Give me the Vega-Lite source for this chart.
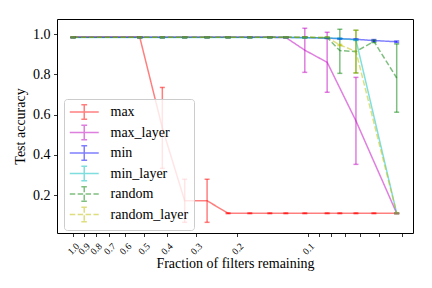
{
  "$schema": "https://vega.github.io/schema/vega-lite/v6.json",
  "width": 356,
  "height": 214,
  "autosize": {"type": "none"},
  "padding": {"left": 57, "top": 19, "right": 19, "bottom": 55},
  "background": "white",
  "config": {
    "font": "Liberation Serif",
    "view": {"stroke": "#000", "strokeWidth": 1},
    "axis": {"domain": false, "grid": false, "labelFont": "Liberation Serif", "titleFont": "Liberation Serif", "tickColor": "#000", "labelColor": "#000", "titleColor": "#000", "titleFontWeight": "normal", "titleFontSize": 14, "tickSize": 3.5, "tickWidth": 0.8},
    "legend": {"orient": "none", "legendX": 7, "legendY": 80, "title": null, "symbolType": "M-1,0H3M1,-1V1M0.6,-1H1.4M0.6,1H1.4", "symbolSize": 210, "symbolStrokeWidth": 1.5, "symbolOpacity": 0.5, "symbolFillColor": "transparent", "labelFont": "Liberation Serif", "labelFontSize": 14, "labelColor": "#000", "labelOffset": 25.5, "rowPadding": -1.5, "padding": 5, "strokeColor": "#cccccc", "fillColor": "rgba(255,255,255,0.8)", "cornerRadius": 3}
  },
  "data": {"values": [
    {"s":"max","x":1.0,"y":0.984,"lo":0.982,"hi":0.986},
    {"s":"max","x":0.52,"y":0.984,"lo":0.982,"hi":0.986},
    {"s":"max","x":0.417,"y":0.534,"lo":0.333,"hi":0.735},
    {"s":"max","x":0.335,"y":0.172,"lo":0.065,"hi":0.279},
    {"s":"max","x":0.269,"y":0.172,"lo":0.065,"hi":0.279},
    {"s":"max","x":0.219,"y":0.11,"lo":0.108,"hi":0.112},
    {"s":"max","x":0.177,"y":0.11,"lo":0.108,"hi":0.112},
    {"s":"max","x":0.1455,"y":0.11,"lo":0.108,"hi":0.112},
    {"s":"max","x":0.1244,"y":0.11,"lo":0.108,"hi":0.112},
    {"s":"max","x":0.1033,"y":0.11,"lo":0.108,"hi":0.112},
    {"s":"max","x":0.083,"y":0.11,"lo":0.108,"hi":0.112},
    {"s":"max","x":0.0733,"y":0.11,"lo":0.108,"hi":0.112},
    {"s":"max","x":0.0626,"y":0.11,"lo":0.108,"hi":0.112},
    {"s":"max","x":0.0525,"y":0.11,"lo":0.108,"hi":0.112},
    {"s":"max","x":0.042,"y":0.11,"lo":0.108,"hi":0.112},

    {"s":"max_layer","x":1.0,"y":0.984,"lo":0.982,"hi":0.986},
    {"s":"max_layer","x":0.52,"y":0.984,"lo":0.982,"hi":0.986},
    {"s":"max_layer","x":0.417,"y":0.984,"lo":0.982,"hi":0.986},
    {"s":"max_layer","x":0.335,"y":0.984,"lo":0.982,"hi":0.986},
    {"s":"max_layer","x":0.269,"y":0.984,"lo":0.982,"hi":0.986},
    {"s":"max_layer","x":0.219,"y":0.984,"lo":0.982,"hi":0.986},
    {"s":"max_layer","x":0.177,"y":0.984,"lo":0.982,"hi":0.986},
    {"s":"max_layer","x":0.1455,"y":0.984,"lo":0.982,"hi":0.986},
    {"s":"max_layer","x":0.1244,"y":0.983,"lo":0.981,"hi":0.985},
    {"s":"max_layer","x":0.1033,"y":0.92,"lo":0.81,"hi":1.029},
    {"s":"max_layer","x":0.083,"y":0.86,"lo":0.711,"hi":1.009},
    {"s":"max_layer","x":0.0626,"y":0.569,"lo":0.353,"hi":0.785},
    {"s":"max_layer","x":0.042,"y":0.11,"lo":0.108,"hi":0.112},

    {"s":"min","x":1.0,"y":0.984,"lo":0.982,"hi":0.986},
    {"s":"min","x":0.52,"y":0.984,"lo":0.982,"hi":0.986},
    {"s":"min","x":0.417,"y":0.984,"lo":0.982,"hi":0.986},
    {"s":"min","x":0.335,"y":0.984,"lo":0.982,"hi":0.986},
    {"s":"min","x":0.269,"y":0.984,"lo":0.982,"hi":0.986},
    {"s":"min","x":0.219,"y":0.984,"lo":0.982,"hi":0.986},
    {"s":"min","x":0.177,"y":0.984,"lo":0.982,"hi":0.986},
    {"s":"min","x":0.1455,"y":0.984,"lo":0.982,"hi":0.986},
    {"s":"min","x":0.1244,"y":0.984,"lo":0.982,"hi":0.986},
    {"s":"min","x":0.1033,"y":0.983,"lo":0.981,"hi":0.985},
    {"s":"min","x":0.083,"y":0.98,"lo":0.978,"hi":0.982},
    {"s":"min","x":0.0733,"y":0.977,"lo":0.975,"hi":0.979},
    {"s":"min","x":0.0626,"y":0.974,"lo":0.971,"hi":0.977},
    {"s":"min","x":0.0525,"y":0.968,"lo":0.963,"hi":0.973},
    {"s":"min","x":0.042,"y":0.962,"lo":0.958,"hi":0.966},

    {"s":"min_layer","x":1.0,"y":0.983,"lo":0.981,"hi":0.985},
    {"s":"min_layer","x":0.52,"y":0.983,"lo":0.981,"hi":0.985},
    {"s":"min_layer","x":0.417,"y":0.983,"lo":0.981,"hi":0.985},
    {"s":"min_layer","x":0.335,"y":0.983,"lo":0.981,"hi":0.985},
    {"s":"min_layer","x":0.269,"y":0.983,"lo":0.981,"hi":0.985},
    {"s":"min_layer","x":0.219,"y":0.983,"lo":0.981,"hi":0.985},
    {"s":"min_layer","x":0.177,"y":0.983,"lo":0.981,"hi":0.985},
    {"s":"min_layer","x":0.1455,"y":0.983,"lo":0.981,"hi":0.985},
    {"s":"min_layer","x":0.1244,"y":0.983,"lo":0.981,"hi":0.985},
    {"s":"min_layer","x":0.1033,"y":0.982,"lo":0.98,"hi":0.984},
    {"s":"min_layer","x":0.083,"y":0.981,"lo":0.979,"hi":0.983},
    {"s":"min_layer","x":0.0733,"y":0.978,"lo":0.976,"hi":0.98},
    {"s":"min_layer","x":0.0626,"y":0.971,"lo":0.968,"hi":0.974},
    {"s":"min_layer","x":0.042,"y":0.11,"lo":0.108,"hi":0.112},

    {"s":"random","x":1.0,"y":0.984,"lo":0.982,"hi":0.986},
    {"s":"random","x":0.52,"y":0.984,"lo":0.982,"hi":0.986},
    {"s":"random","x":0.417,"y":0.984,"lo":0.982,"hi":0.986},
    {"s":"random","x":0.335,"y":0.984,"lo":0.982,"hi":0.986},
    {"s":"random","x":0.269,"y":0.984,"lo":0.982,"hi":0.986},
    {"s":"random","x":0.219,"y":0.984,"lo":0.982,"hi":0.986},
    {"s":"random","x":0.177,"y":0.984,"lo":0.982,"hi":0.986},
    {"s":"random","x":0.1455,"y":0.984,"lo":0.982,"hi":0.986},
    {"s":"random","x":0.1244,"y":0.984,"lo":0.982,"hi":0.986},
    {"s":"random","x":0.1033,"y":0.984,"lo":0.982,"hi":0.986},
    {"s":"random","x":0.083,"y":0.983,"lo":0.98,"hi":0.986},
    {"s":"random","x":0.0733,"y":0.918,"lo":0.805,"hi":1.024},
    {"s":"random","x":0.0626,"y":0.913,"lo":0.807,"hi":1.019},
    {"s":"random","x":0.0525,"y":0.964,"lo":0.958,"hi":0.97},
    {"s":"random","x":0.042,"y":0.782,"lo":0.612,"hi":0.951},

    {"s":"random_layer","x":1.0,"y":0.984,"lo":0.982,"hi":0.986},
    {"s":"random_layer","x":0.52,"y":0.984,"lo":0.982,"hi":0.986},
    {"s":"random_layer","x":0.417,"y":0.984,"lo":0.982,"hi":0.986},
    {"s":"random_layer","x":0.335,"y":0.984,"lo":0.982,"hi":0.986},
    {"s":"random_layer","x":0.269,"y":0.984,"lo":0.982,"hi":0.986},
    {"s":"random_layer","x":0.219,"y":0.984,"lo":0.982,"hi":0.986},
    {"s":"random_layer","x":0.177,"y":0.984,"lo":0.982,"hi":0.986},
    {"s":"random_layer","x":0.1455,"y":0.984,"lo":0.982,"hi":0.986},
    {"s":"random_layer","x":0.1244,"y":0.984,"lo":0.982,"hi":0.986},
    {"s":"random_layer","x":0.1033,"y":0.984,"lo":0.982,"hi":0.986},
    {"s":"random_layer","x":0.083,"y":0.983,"lo":0.981,"hi":0.985},
    {"s":"random_layer","x":0.0733,"y":0.946,"lo":0.943,"hi":0.949},
    {"s":"random_layer","x":0.0626,"y":0.914,"lo":0.807,"hi":1.019},
    {"s":"random_layer","x":0.042,"y":0.11,"lo":0.108,"hi":0.112}
  ]},
  "encoding": {
    "x": {
      "field": "x", "type": "quantitative",
      "scale": {"type": "log", "domain": [0.0358, 1.17], "reverse": true},
      "axis": {
        "values": [1, 0.9, 0.8, 0.7, 0.6, 0.5, 0.4, 0.3, 0.2, 0.1, 0.09, 0.08, 0.07, 0.06, 0.05, 0.04],
        "labelExpr": "datum.value >= 0.095 ? format(datum.value, '.1f') : ''",
        "labelAngle": -45, "labelAlign": "center", "labelBaseline": "middle",
        "labelPadding": 12, "labelFontSize": 9.5, "labelOverlap": false, "labelFlush": false,
        "title": "Fraction of filters remaining", "titlePadding": 1
      }
    },
    "color": {
      "field": "s", "type": "nominal",
      "scale": {
        "domain": ["max", "max_layer", "min", "min_layer", "random", "random_layer"],
        "range": ["#ff0000", "#bf00bf", "#0000ff", "#00bfbf", "#008000", "#bfbf00"]
      }
    }
  },
  "layer": [
    {
      "mark": {"type": "line", "opacity": 0.5, "strokeWidth": 1.5},
      "encoding": {
        "y": {
          "field": "y", "type": "quantitative",
          "scale": {"domain": [0.012, 1.075], "nice": false, "zero": false},
          "axis": {"values": [0.2, 0.4, 0.6, 0.8, 1.0], "format": ".1f", "labelFontSize": 14, "labelPadding": 3.5, "title": "Test accuracy", "titlePadding": 5}
        },
        "strokeDash": {
          "field": "s", "type": "nominal",
          "scale": {
            "domain": ["max", "max_layer", "min", "min_layer", "random", "random_layer"],
            "range": [[1, 0], [1, 0], [1, 0], [1, 0], [5.5, 2.4], [5.5, 2.4]]
          }
        }
      }
    },
    {
      "mark": {"type": "rule", "opacity": 0.5, "strokeWidth": 1.5},
      "encoding": {
        "y": {"field": "lo", "type": "quantitative"},
        "y2": {"field": "hi"}
      }
    },
    {
      "mark": {"type": "tick", "orient": "horizontal", "size": 5, "thickness": 1.5, "opacity": 0.5},
      "encoding": {"y": {"field": "lo", "type": "quantitative"}}
    },
    {
      "mark": {"type": "tick", "orient": "horizontal", "size": 5, "thickness": 1.5, "opacity": 0.5},
      "encoding": {"y": {"field": "hi", "type": "quantitative"}}
    }
  ]
}
